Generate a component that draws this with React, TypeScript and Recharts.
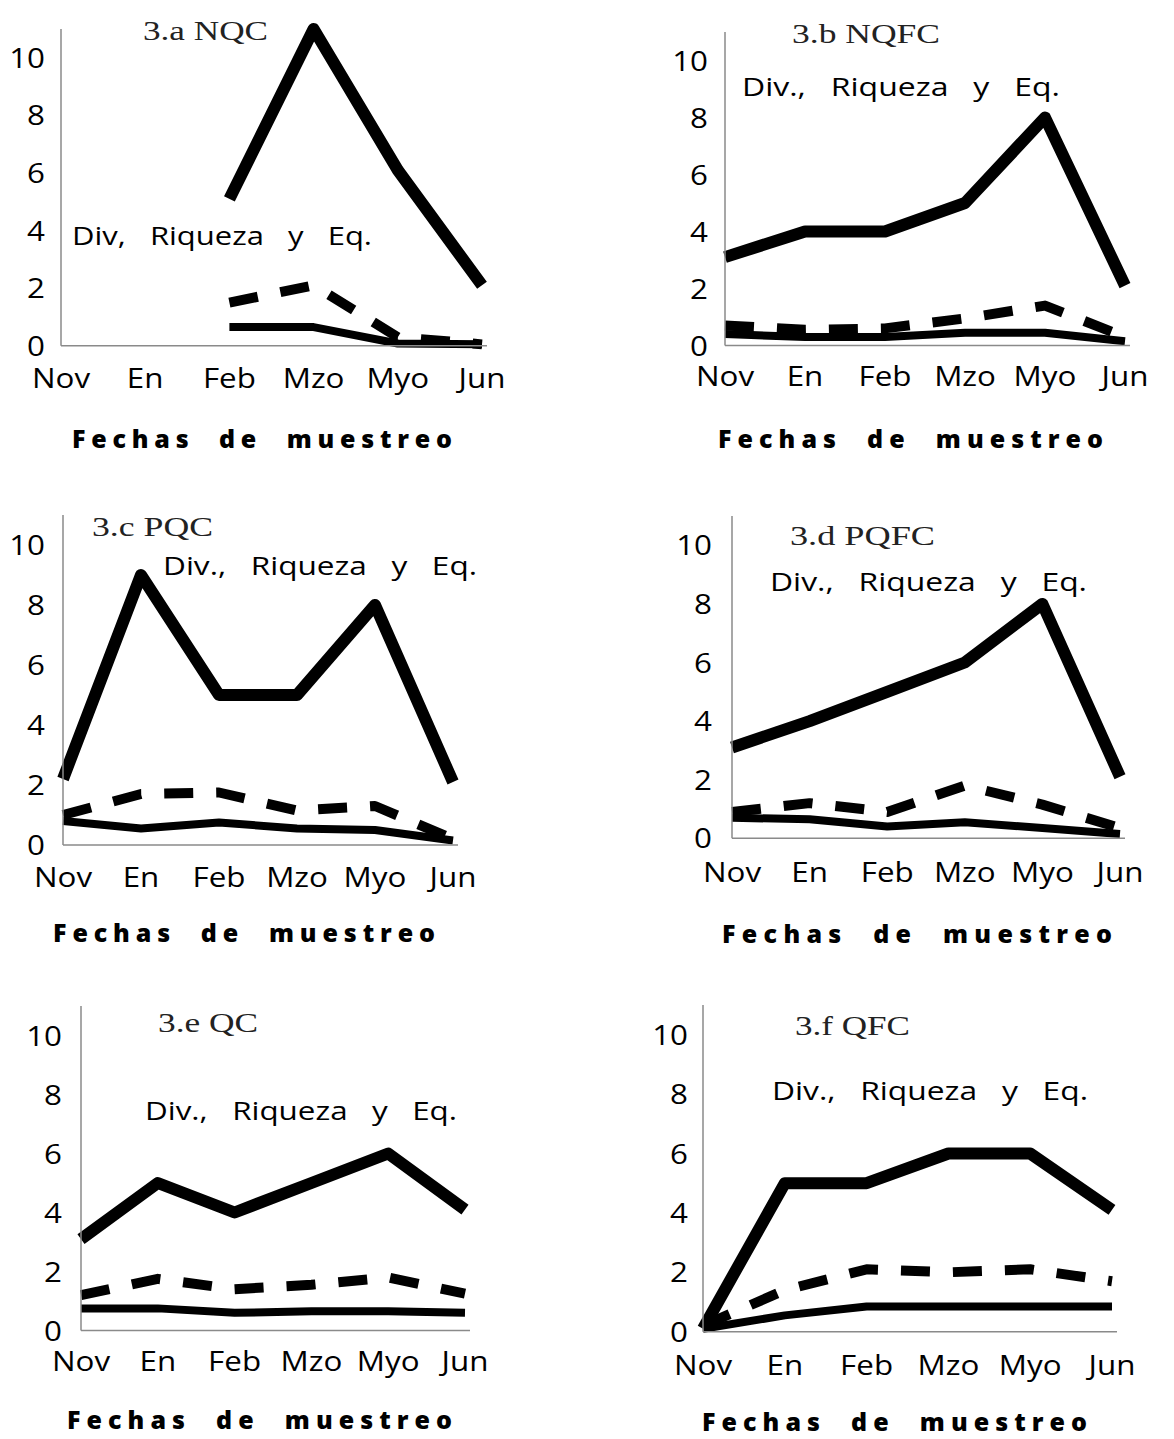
import { Line, LineChart, XAxis, YAxis } from "recharts";

const months = ["Nov", "En", "Feb", "Mzo", "Myo", "Jun"];
const yTicks = [0, 2, 4, 6, 8, 10];

// riq = riqueza (thick solid), div = diversidad (dashed), eq = equidad (thin solid)
const riqA = [null, null, 5.1, 11, 6.1, 2.1];
const divA = [null, null, 1.5, 2.1, 0.3, 0.05];
const eqA = [null, null, 0.65, 0.65, 0.08, 0.05];

const riqB = [3.1, 4, 4, 5, 8, 2.1];
const divB = [0.7, 0.55, 0.6, 0.95, 1.4, 0.3];
const eqB = [0.4, 0.3, 0.3, 0.45, 0.45, 0.15];

const riqC = [2.2, 9, 5, 5, 8, 2.1];
const divC = [1.0, 1.7, 1.75, 1.15, 1.3, 0.2];
const eqC = [0.8, 0.55, 0.75, 0.55, 0.5, 0.15];

const riqD = [3.1, 4, 5, 6, 8, 2.1];
const divD = [0.9, 1.2, 0.9, 1.8, 1.15, 0.35];
const eqD = [0.7, 0.65, 0.4, 0.55, 0.35, 0.15];

const riqE = [3.1, 5, 4, 5, 6, 4.1];
const divE = [1.2, 1.75, 1.4, 1.55, 1.8, 1.25];
const eqE = [0.75, 0.75, 0.6, 0.65, 0.65, 0.6];

const riqF = [0.1, 5, 5, 6, 6, 4.1];
const divF = [0.2, 1.4, 2.1, 2.0, 2.1, 1.7];
const eqF = [0.1, 0.55, 0.85, 0.85, 0.85, 0.85];

const titles = ["3.a NQC", "3.b NQFC", "3.c PQC", "3.d PQFC", "3.e QC", "3.f QFC"];
const notes = [
  "Div,   Riqueza   y   Eq.",
  "Div.,   Riqueza   y   Eq.",
  "Div.,   Riqueza   y   Eq.",
  "Div.,   Riqueza   y   Eq.",
  "Div.,   Riqueza   y   Eq.",
  "Div.,   Riqueza   y   Eq.",
];
const xLabel = "Fechas  de  muestreo";

const series = [
  [riqA, divA, eqA],
  [riqB, divB, eqB],
  [riqC, divC, eqC],
  [riqD, divD, eqD],
  [riqE, divE, eqE],
  [riqF, divF, eqF],
];

// page geometry of each panel (axis origin, 10-tick, last category)
const layouts = [
  { x0: 61, y0: 345.5, y10: 57.5, junX: 482, yGap: 16, xGap: 22 },
  { x0: 725, y0: 345, y10: 60, junX: 1125, yGap: 17, xGap: 20 },
  { x0: 63, y0: 845, y10: 545, junX: 453, yGap: 18, xGap: 22 },
  { x0: 732, y0: 838, y10: 545, junX: 1120, yGap: 20, xGap: 24 },
  { x0: 81, y0: 1330, y10: 1035, junX: 465, yGap: 19, xGap: 20 },
  { x0: 703, y0: 1332, y10: 1035, junX: 1112, yGap: 15, xGap: 23 },
];

const titleBoxes = [
  { x: 143, w: 125, base: 40 },
  { x: 792, w: 148, base: 43 },
  { x: 92, w: 121, base: 536 },
  { x: 790, w: 145, base: 545 },
  { x: 158, w: 100, base: 1032 },
  { x: 795, w: 115, base: 1035 },
];
const noteBoxes = [
  { x: 72, w: 300, base: 245 },
  { x: 742, w: 318, base: 96 },
  { x: 163, w: 314, base: 575 },
  { x: 770, w: 317, base: 591 },
  { x: 145, w: 312, base: 1120 },
  { x: 772, w: 316, base: 1100 },
];
const xLabelBoxes = [
  { x: 72, w: 380, base: 448 },
  { x: 718, w: 385, base: 448 },
  { x: 53, w: 382, base: 942 },
  { x: 722, w: 390, base: 943 },
  { x: 67, w: 385, base: 1429 },
  { x: 702, w: 385, base: 1431 },
];

const TICK_FONT = "'Open Sans', sans-serif";
const STRETCH = 1.12;
const AXIS_STROKE = "#8a8a8a";

function XTick(props: any) {
  const { x, y, payload } = props;
  return (
    <text
      transform={`translate(${x},${y}) scale(${STRETCH},1)`}
      textAnchor="middle"
      dy="0.72em"
      fontFamily={TICK_FONT}
      fontSize={28}
      fontWeight={500}
      fill="#000"
    >
      {payload.value}
    </text>
  );
}

function YTick(props: any) {
  const { x, y, payload } = props;
  return (
    <text
      transform={`translate(${x},${y}) scale(${STRETCH},1)`}
      textAnchor="end"
      dy="0.36em"
      fontFamily={TICK_FONT}
      fontSize={28}
      fontWeight={500}
      fill="#000"
    >
      {payload.value}
    </text>
  );
}

function Panel({ idx }: { idx: number }) {
  const l = layouts[idx];
  const [riq, div, eq] = series[idx];
  const rows = months.map((m, i) => ({ m, riq: riq[i], div: div[i], eq: eq[i] }));
  const yTop = l.y0 - 1.1 * (l.y0 - l.y10);
  const plotH = l.y0 - yTop;
  const plotW = l.junX + 5 - l.x0;
  const YW = 70;
  const MT = 14;
  const MR = 50;
  const XH = 70;
  return (
    <div style={{ position: "absolute", left: l.x0 - YW, top: yTop - MT }}>
      <LineChart
        width={YW + plotW + MR}
        height={MT + plotH + XH}
        data={rows}
        margin={{ top: MT, right: MR, bottom: 0, left: 0 }}
      >
        <XAxis
          dataKey="m"
          interval={0}
          padding={{ left: 0, right: 5 }}
          height={XH}
          tickLine={false}
          tickSize={0}
          tickMargin={l.xGap}
          axisLine={{ stroke: AXIS_STROKE, strokeWidth: 1.5 }}
          tick={(p: any) => <XTick {...p} />}
        />
        <YAxis
          domain={[0, 11]}
          ticks={yTicks}
          width={YW}
          tickLine={false}
          tickSize={0}
          tickMargin={l.yGap}
          axisLine={{ stroke: AXIS_STROKE, strokeWidth: 1.5 }}
          tick={(p: any) => <YTick {...p} />}
        />
        <Line
          dataKey="eq"
          type="linear"
          stroke="#000"
          strokeWidth={8}
          strokeLinejoin="round"
          dot={false}
          activeDot={false}
          isAnimationActive={false}
        />
        <Line
          dataKey="div"
          type="linear"
          stroke="#000"
          strokeWidth={10}
          strokeDasharray="29 23"
          strokeLinejoin="round"
          dot={false}
          activeDot={false}
          isAnimationActive={false}
        />
        <Line
          dataKey="riq"
          type="linear"
          stroke="#000"
          strokeWidth={12}
          strokeLinejoin="round"
          dot={false}
          activeDot={false}
          isAnimationActive={false}
        />
      </LineChart>
    </div>
  );
}

export default function App() {
  return (
    <div
      style={{
        position: "absolute",
        left: 0,
        top: 0,
        width: 1174,
        height: 1439,
        background: "#fff",
        overflow: "hidden",
      }}
    >
      {layouts.map((_, i) => (
        <Panel key={i} idx={i} />
      ))}
      <svg
        width={1174}
        height={1439}
        style={{ position: "absolute", left: 0, top: 0, pointerEvents: "none" }}
      >
        {titles.map((t, i) => (
          <text
            key={"t" + i}
            x={titleBoxes[i].x}
            y={titleBoxes[i].base}
            textLength={titleBoxes[i].w}
            lengthAdjust="spacingAndGlyphs"
            fontFamily="'Liberation Serif', 'Times New Roman', serif"
            fontSize={27}
            fill="#222"
          >
            {t}
          </text>
        ))}
        {notes.map((t, i) => (
          <text
            key={"n" + i}
            x={noteBoxes[i].x}
            y={noteBoxes[i].base}
            textLength={noteBoxes[i].w}
            lengthAdjust="spacingAndGlyphs"
            xmlSpace="preserve"
            style={{ whiteSpace: "pre" }}
            fontFamily={TICK_FONT}
            fontSize={26}
            fontWeight={500}
            fill="#000"
          >
            {t}
          </text>
        ))}
        {xLabelBoxes.map((b, i) => (
          <text
            key={"x" + i}
            x={b.x}
            y={b.base}
            textLength={b.w}
            lengthAdjust="spacing"
            xmlSpace="preserve"
            style={{ whiteSpace: "pre" }}
            fontFamily={TICK_FONT}
            fontWeight={800}
            fontSize={25}
            fill="#000"
          >
            {xLabel}
          </text>
        ))}
      </svg>
    </div>
  );
}
